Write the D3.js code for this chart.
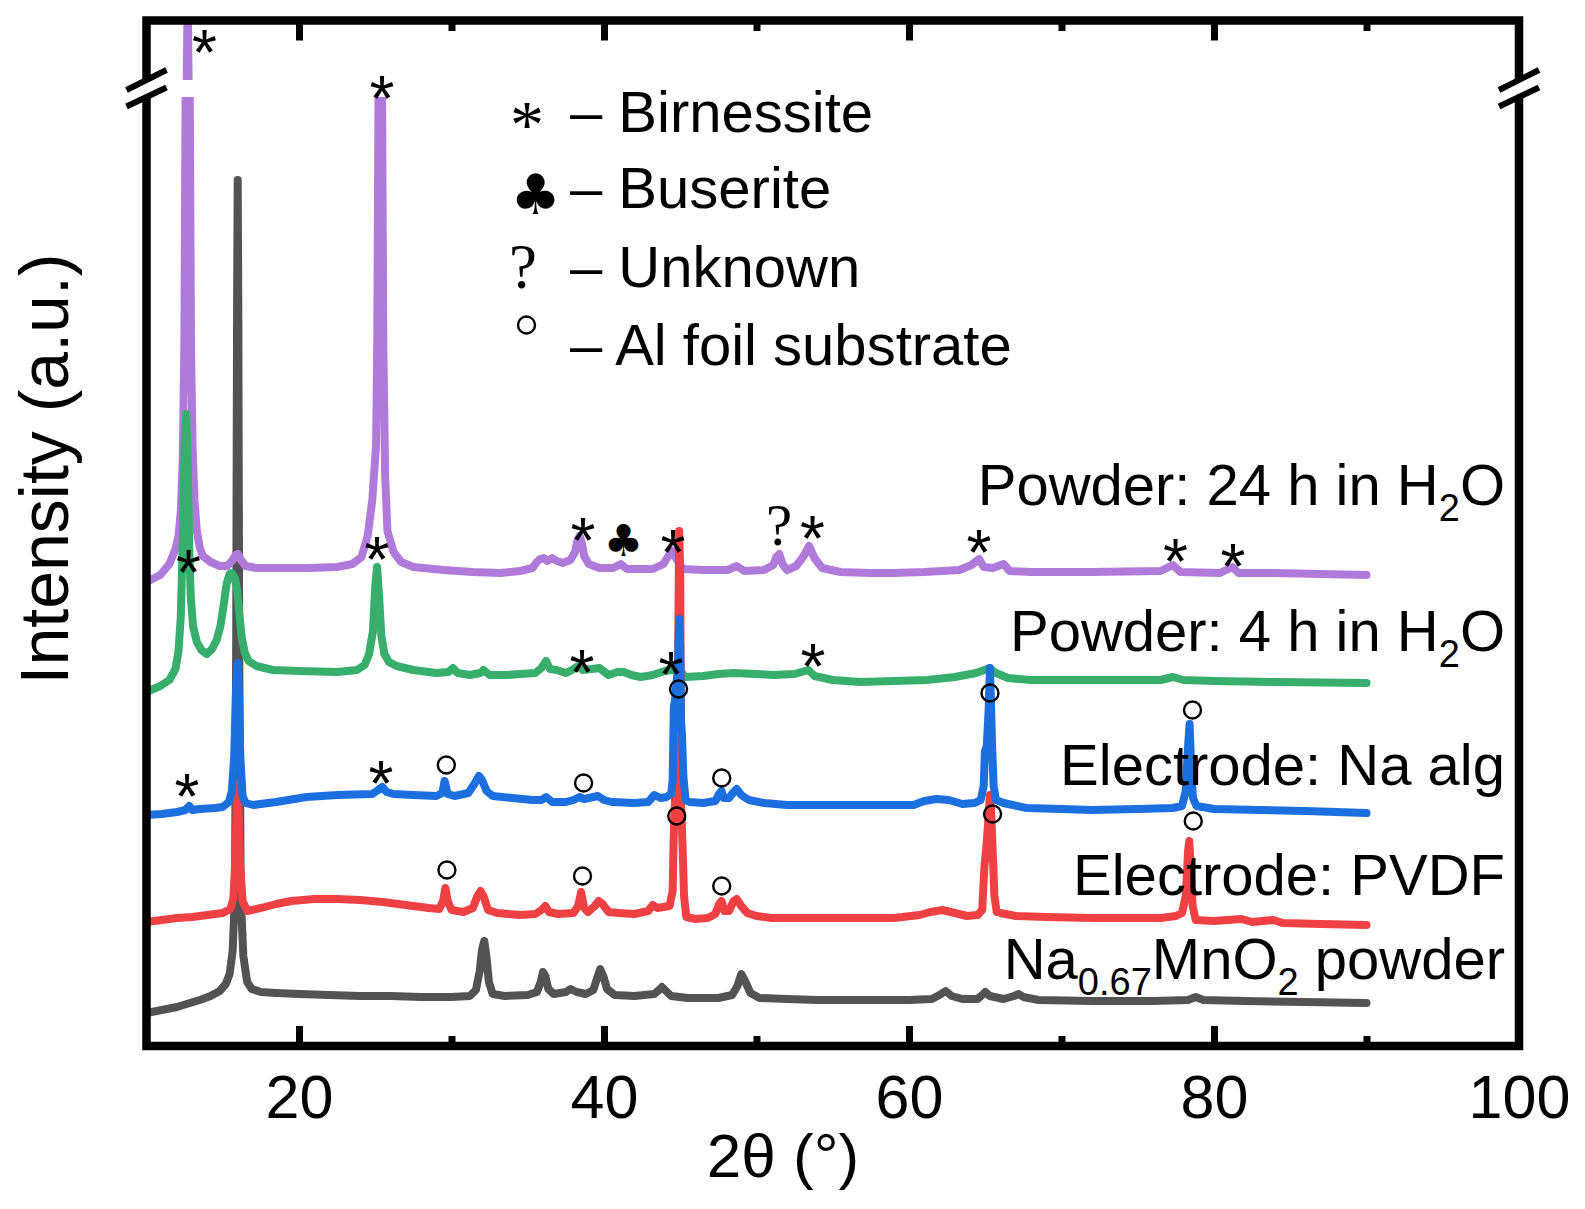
<!DOCTYPE html>
<html><head><meta charset="utf-8">
<script src="https://cdn.jsdelivr.net/npm/d3@7"></script>
<style>body{margin:0;background:#fff}svg{display:block}</style>
</head><body>
<svg id="chart" width="1585" height="1209"></svg>
<script>
// ---------- data (2θ in degrees, intensity in a.u.) ----------
const majorTicks = [20, 40, 60, 80, 100];
const minorTicks = [30, 50, 70, 90];

const powderNaMnO2 = [[10,33],[11,36],[12,39],[12.85,43],[13.5,46],[14.2,50],[14.8,55],[15.2,62],[15.45,72],[15.65,95],[15.8,150],[15.88,400],[15.94,740],[15.98,866],[16.02,740],[16.08,400],[16.18,150],[16.35,90],[16.6,64],[16.9,57],[17.5,54],[18.5,53],[20,52],[22,51],[24,50],[26,50],[28,49],[30,49],[31.2,50],[31.6,56],[31.85,75],[32.0,96],[32.15,105],[32.3,88],[32.45,64],[32.7,52],[33.5,50],[35,51],[35.6,54],[35.85,64],[36.0,74],[36.15,70],[36.35,57],[36.7,52],[37.5,54],[37.8,57],[38.2,54],[38.8,52],[39.3,56],[39.55,68],[39.75,77],[39.95,70],[40.2,57],[40.7,51],[42,50],[43.3,52],[43.6,56],[43.8,59],[44.0,56],[44.4,50],[45.5,48],[47.5,48],[48.4,51],[48.75,60],[49.0,72],[49.25,65],[49.6,53],[50.2,48],[52,47],[54,46],[56,46],[58,46],[60,46],[61.5,47],[62.0,51],[62.4,55],[62.8,50],[63.5,47],[64.5,47],[64.8,51],[65.0,54],[65.3,50],[66.2,47],[66.9,50],[67.2,52],[67.5,49],[68.5,46],[72,45],[76,45],[78.3,46],[78.8,49],[79.3,46],[82,45],[86,44],[90,43]];

const electrodePVDF = [[10,124],[11,126],[12,128],[13,129],[14,131],[15,133],[15.5,137],[15.7,148],[15.82,185],[15.92,245],[15.97,263],[16.02,245],[16.12,185],[16.3,145],[16.6,135],[17.5,138],[18.5,142],[19.5,145],[21,147],[22.5,147],[24,146],[25.5,144],[27,141],[28.5,138],[29.2,137],[29.45,145],[29.6,158],[29.75,145],[30.0,136],[30.8,134],[31.4,138],[31.7,150],[31.9,155],[32.1,150],[32.4,136],[33,133],[34.5,131],[35.5,132],[35.9,136],[36.15,140],[36.4,134],[37,132],[38,133],[38.3,140],[38.5,154],[38.7,138],[38.95,134],[39.4,140],[39.65,145],[39.9,142],[40.3,134],[41,133],[42,132],[42.9,135],[43.2,141],[43.5,138],[43.9,139],[44.3,140],[44.5,155],[44.6,230],[44.8,280],[44.93,515],[45.0,470],[45.06,240],[45.15,200],[45.25,150],[45.4,129],[46,127],[46.8,128],[47.3,132],[47.55,142],[47.7,145],[47.9,135],[48.2,135],[48.5,145],[48.7,147],[49.0,140],[49.4,133],[50,130],[51,128],[53,128],[55,128],[57,128],[59,128],[60.7,131],[61.4,134],[62.2,136],[63,133],[63.8,130],[64.5,131],[64.8,136],[64.95,180],[65.05,195],[65.22,230],[65.31,251],[65.4,230],[65.5,190],[65.6,150],[65.75,134],[66,133],[67,130],[69,129],[72,128],[75,128],[76.5,128],[77.5,130],[77.9,133],[78.15,150],[78.3,195],[78.38,205],[78.48,175],[78.6,140],[78.8,126],[80,125],[81.8,127],[82.5,124],[83.9,126],[84.5,123],[87,122],[90,121]];

const electrodeNaAlg = [[10,231],[11,232],[12,234],[12.55,236],[12.8,240],[13.0,236],[13.5,237],[14.5,238],[15,239],[15.4,244],[15.6,255],[15.75,290],[15.88,360],[15.97,383],[16.05,360],[16.15,290],[16.3,250],[16.5,243],[17,241],[18.5,244],[20.5,249],[22.5,251],[24.8,252],[25.2,256],[25.45,259],[25.75,254],[26.2,252],[27.5,251],[29,250],[29.4,253],[29.55,265],[29.75,252],[30.2,250],[31.1,253],[31.5,262],[31.8,270],[32.0,266],[32.3,255],[32.7,250],[34,248],[35.3,246],[35.9,246],[36.2,249],[36.6,244],[37.5,244],[38,246],[38.4,249],[38.7,247],[39,248],[39.6,250],[40,246],[40.5,244],[42,243],[42.9,244],[43.3,251],[43.7,248],[44.1,249],[44.4,252],[44.5,265],[44.58,340],[44.65,345],[44.85,380],[44.93,427],[45.0,400],[45.05,325],[45.12,310],[45.2,270],[45.35,246],[45.6,244],[46.5,243],[47.3,245],[47.55,252],[47.7,255],[47.85,248],[48.2,248],[48.5,254],[48.7,257],[49.0,251],[49.5,246],[50.5,243],[52,241],[54,241],[56,241],[58,241],[60.3,241],[61,245],[61.8,247],[62.6,246],[63.5,242],[64.3,243],[64.7,246],[64.9,260],[64.98,295],[65.1,300],[65.22,335],[65.31,378],[65.38,340],[65.45,300],[65.55,260],[65.7,246],[66.2,243],[67.7,238],[70,237],[72,236],[75,237],[77.3,238],[77.9,240],[78.15,255],[78.3,300],[78.4,322],[78.5,280],[78.62,248],[78.85,240],[80,237],[83,236],[86,235],[90,233]];

const powder4h = [[10,354],[10.9,360],[11.5,366],[11.9,377],[12.1,395],[12.25,430],[12.4,520],[12.5,600],[12.6,632],[12.7,590],[12.8,500],[12.9,450],[13.05,420],[13.3,404],[13.6,396],[13.95,392],[14.3,397],[14.6,406],[14.85,420],[15.05,440],[15.25,462],[15.45,472],[15.6,473],[15.8,468],[15.95,455],[16.1,430],[16.25,408],[16.45,393],[16.7,385],[17.2,380],[18.3,376],[20,375],[22.5,374],[23.8,376],[24.3,381],[24.6,392],[24.85,415],[25.0,460],[25.12,479],[25.25,450],[25.4,410],[25.6,392],[25.9,384],[26.4,380],[27.5,376],[29,373],[29.8,374],[30.1,378],[30.4,373],[31.2,371],[31.9,373],[32.1,376],[32.5,371],[33.6,371],[34.5,372],[35.5,373],[35.9,378],[36.2,385],[36.45,377],[36.9,376],[37.5,373],[37.9,376],[38.3,380],[38.6,376],[39.2,377],[39.7,378],[40.3,371],[40.9,374],[41.3,374],[41.8,371],[42.4,369],[43.2,371],[44,375],[44.5,376],[44.9,378],[45.3,369],[46.5,370],[47.5,372],[48.5,373],[50,372],[51.1,371],[52.5,372],[53.4,376],[53.8,370],[55,366],[56.8,364],[59,365],[61.2,366],[63,369],[64.4,373],[65.3,378],[65.7,373],[66.5,368],[68,366],[72,366],[76.5,366],[77.3,369],[78,366],[80,365],[84,364],[90,363]];

const powder24h = [[10,464],[10.9,471],[11.5,482],[11.9,497],[12.1,510],[12.25,535],[12.38,590],[12.48,700],[12.58,1000],[12.64,1500],[12.7,1800],[12.76,1500],[12.82,1000],[12.92,700],[13.02,600],[13.15,545],[13.3,515],[13.5,498],[13.7,490],[14.2,484],[14.8,480],[15.3,480],[15.6,485],[15.85,491],[16.0,492],[16.2,486],[16.5,480],[17.2,478],[18.5,478],[20.5,478],[22.5,479],[23.5,482],[24.1,489],[24.5,510],[24.8,545],[25.05,600],[25.13,700],[25.23,1000],[25.33,1300],[25.43,1000],[25.53,700],[25.65,570],[25.8,515],[26.2,494],[26.7,484],[27.5,479],[29.5,476],[31.4,474],[33.2,473],[34.5,475],[35.3,478],[35.6,484],[35.8,487],[36.05,488],[36.3,485],[36.6,488],[36.9,485],[37.3,483],[37.8,486],[38.1,494],[38.25,505],[38.4,510],[38.55,503],[38.7,490],[39,482],[39.7,478],[40.6,478],[41.1,482],[41.5,477],[43.2,477],[43.9,482],[44.3,492],[44.5,495],[44.75,487],[45.2,477],[46.5,476],[48.1,476],[48.7,480],[49.2,475],[50.5,476],[51.1,481],[51.3,489],[51.5,492],[51.7,482],[52,476],[52.6,480],[53.1,490],[53.45,500],[53.8,488],[54.3,478],[55.5,474],[57.5,473],[59,473],[61,474],[63.3,476],[64.1,481],[64.6,487],[64.9,479],[65.5,478],[66.2,482],[66.6,475],[68,474],[72,474],[76.5,475],[77.3,481],[77.8,474],[80.4,473],[81.2,479],[81.6,473],[84,473],[87,472],[90,471]];

// peak markers: [symbol, 2θ, intensity]
const marks24h = [['*',13.80,1008],['*',25.44,962],['*',38.62,520],['club',41.28,506],['*',44.52,508],['?',51.48,521],['*',53.67,522],['*',64.59,508],['*',77.48,499],['*',81.25,494]];
const marks4h = [['*',12.75,488],['*',25.11,501],['*',38.56,388],['*',44.39,386],['*',53.70,394]];
const marksNaAlg = [['*',12.66,264],['*',25.38,277],['o',29.66,281],['o',38.66,263],['o',44.89,357],['o',47.72,268],['o',65.31,353],['o',78.59,336]];
const marksPVDF = [['o',29.70,176],['o',38.59,170],['o',44.77,230],['o',47.72,160],['o',65.48,232],['o',78.64,225]];

const legendItems = [['*','Birnessite'],['club','Buserite'],['?','Unknown'],['o','Al foil substrate']];

// ---------- drawing ----------
const svg = d3.select('#chart');
const SANS = '"Liberation Sans", Arial, Helvetica, sans-serif';
const SERIF = '"Liberation Serif", "Times New Roman", serif';
const L = 146.5, R = 1519, T = 20.5, B = 1046;
const breakTop = 80, breakBot = 97;

const x = d3.scaleLinear().domain([10, 100]).range([L, R]);
const yLow = d3.scaleLinear().domain([0, 1025.5]).range([B, T]);
const yUp = d3.scaleLinear().domain([1500, 1700]).range([breakTop, 20]);

const defs = svg.append('defs');
defs.append('clipPath').attr('id','clipLow').append('rect')
  .attr('x', L).attr('y', breakBot).attr('width', R - L).attr('height', B - breakBot);
defs.append('clipPath').attr('id','clipUp').append('rect')
  .attr('x', L).attr('y', T).attr('width', R - L).attr('height', breakTop - T);

const lineLow = d3.line().x(d => x(d[0])).y(d => yLow(d[1]));
const lineUp = d3.line().x(d => x(d[0])).y(d => yUp(d[1]));

const series = [
  {data: powderNaMnO2, color: '#535353'},
  {data: powder24h, color: '#B07ADB', up: true},
  {data: powder4h, color: '#37AE6C'},
  {data: electrodePVDF, color: '#EF4144'},
  {data: electrodeNaAlg, color: '#1B6FDE'}
];
const gLines = svg.append('g');
series.forEach(s => {
  gLines.append('path').attr('d', lineLow(s.data)).attr('clip-path','url(#clipLow)')
    .attr('fill','none').attr('stroke', s.color).attr('stroke-width', 8)
    .attr('stroke-linejoin','round').attr('stroke-linecap','round');
  if (s.up) {
    gLines.append('path').attr('d', lineUp(s.data)).attr('clip-path','url(#clipUp)')
      .attr('fill','none').attr('stroke', s.color).attr('stroke-width', 8)
      .attr('stroke-linejoin','round').attr('stroke-linecap','round');
  }
});

// markers
function drawSymbol(g, sym, cx, cy, size) {
  if (sym === 'o') {
    g.append('circle').attr('cx', cx).attr('cy', cy).attr('r', 8.5)
      .attr('fill','none').attr('stroke','#000').attr('stroke-width', 2.4);
  } else if (sym === '*') {
    g.append('text').attr('x', cx).attr('y', cy + size.starOff * size.star)
      .attr('text-anchor','middle').attr('font-family', size.starFont)
      .attr('font-size', size.star).text('*');
  } else if (sym === 'club') {
    g.append('text').attr('x', cx).attr('y', cy + 0.37 * size.club)
      .attr('text-anchor','middle').attr('font-family','"DejaVu Sans", sans-serif')
      .attr('font-size', size.club).text('\u2663');
  } else if (sym === '?') {
    g.append('text').attr('x', cx).attr('y', cy + 0.335 * size.q)
      .attr('text-anchor','middle').attr('font-family', SERIF)
      .attr('font-size', size.q).text('?');
  }
}
const gMarks = svg.append('g');
const plotSize = {star: 64, starOff: 0.577, starFont: SANS, club: 44, q: 59};
[marks24h, marks4h, marksNaAlg, marksPVDF].forEach(arr =>
  arr.forEach(m => drawSymbol(gMarks, m[0], x(m[1]), yLow(m[2]), plotSize)));

// legend
const gLeg = svg.append('g');
const legBase = [131.7, 208.3, 286.7, 365];
const legSymPos = [[527, 113], [535.5, 193], [523, 267], [526.5, 325]];
const legSize = {star: 68, starOff: 0.5, starFont: SERIF, club: 56, q: 63};
legendItems.forEach((it, i) => {
  drawSymbol(gLeg, it[0], legSymPos[i][0], legSymPos[i][1], legSize);
  gLeg.append('text').attr('x', 570).attr('y', legBase[i])
    .attr('font-family', SANS).attr('font-size', 58).text('\u2013 ' + it[1]);
});

// series labels
const gLab = svg.append('g').attr('font-family', SANS).attr('font-size', 58).attr('text-anchor','end');
function label(y, parts) {
  const t = gLab.append('text').attr('x', 1505).attr('y', y);
  parts.forEach(p => {
    const ts = t.append('tspan').text(p[0]);
    if (p[1] === 'sub') ts.attr('font-size', 38).attr('dy', 16);
    if (p[1] === 'back') ts.attr('dy', -16);
  });
}
label(505, [['Powder: 24 h in H'], ['2','sub'], ['O','back']]);
label(651, [['Powder: 4 h in H'], ['2','sub'], ['O','back']]);
label(785, [['Electrode: Na alg']]);
label(895, [['Electrode: PVDF']]);
label(979, [['Na'], ['0.67','sub'], ['MnO','back'], ['2','sub'], [' powder','back']]);

// frame
svg.append('rect').attr('x', L).attr('y', T).attr('width', R - L).attr('height', B - T)
  .attr('fill','none').attr('stroke','#000').attr('stroke-width', 8.5);

// ticks
function styleAxis(g) {
  g.select('.domain').remove();
  g.selectAll('.tick line').attr('stroke','#000').attr('stroke-width', 7);
  g.selectAll('.tick text').attr('font-family', SANS).attr('font-size', 61).attr('fill','#000');
}
svg.append('g').attr('transform', `translate(0,${B})`)
  .call(d3.axisBottom(x).tickValues(majorTicks).tickSize(-20).tickPadding(29).tickFormat(d3.format('d')))
  .call(styleAxis);
svg.append('g').attr('transform', `translate(0,${B})`)
  .call(d3.axisBottom(x).tickValues(minorTicks).tickSize(-10).tickFormat(''))
  .call(styleAxis);
svg.append('g').attr('transform', `translate(0,${T})`)
  .call(d3.axisTop(x).tickValues(majorTicks.filter(v => v < 100)).tickSize(-20).tickFormat(''))
  .call(styleAxis);
svg.append('g').attr('transform', `translate(0,${T})`)
  .call(d3.axisTop(x).tickValues(minorTicks).tickSize(-10.5).tickFormat(''))
  .call(styleAxis);

// axis break marks
function breakMark(ax) {
  const p1 = [[ax - 20, 90], [ax + 20, 70]];
  const p2 = [[ax - 20, 106.5], [ax + 20, 87.5]];
  svg.append('polygon').attr('points', [p1[0], p1[1], p2[1], p2[0]].map(p => p.join(',')).join(' '))
    .attr('fill','#fff');
  [p1, p2].forEach(p => svg.append('line')
    .attr('x1', p[0][0]).attr('y1', p[0][1]).attr('x2', p[1][0]).attr('y2', p[1][1])
    .attr('stroke','#000').attr('stroke-width', 6));
}
breakMark(L); breakMark(R);

// axis titles
svg.append('text').attr('x', 783).attr('y', 1177).attr('text-anchor','middle')
  .attr('font-family', SANS).attr('font-size', 62).text('2\u03B8 (\u00B0)');
svg.append('text').attr('transform','translate(68,469) rotate(-90)').attr('text-anchor','middle')
  .attr('font-family', SANS).attr('font-size', 68).text('Intensity (a.u.)');
</script>
</body></html>
